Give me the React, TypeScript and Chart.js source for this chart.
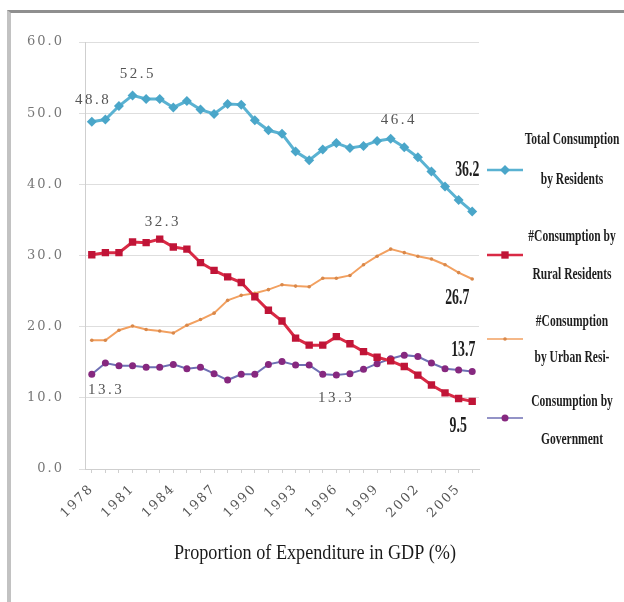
import React, { useEffect, useRef } from 'react';
import { Chart, registerables } from 'chart.js';

Chart.register(...registerables);

const years = [
  '1978', '1979', '1980', '1981', '1982', '1983', '1984', '1985', '1986', '1987',
  '1988', '1989', '1990', '1991', '1992', '1993', '1994', '1995', '1996', '1997',
  '1998', '1999', '2000', '2001', '2002', '2003', '2004', '2005', '2006',
];

const totalResidents = [
  48.8, 49.1, 51.0, 52.5, 52.0, 52.0, 50.8, 51.7, 50.5, 49.9,
  51.3, 51.2, 49.0, 47.6, 47.1, 44.6, 43.4, 44.9, 45.8, 45.1,
  45.4, 46.1, 46.4, 45.2, 43.8, 41.8, 39.7, 37.8, 36.2,
];

const ruralResidents = [
  30.1, 30.4, 30.4, 31.9, 31.8, 32.3, 31.2, 30.9, 29.0, 27.9,
  27.0, 26.2, 24.2, 22.3, 20.8, 18.4, 17.4, 17.4, 18.6, 17.6,
  16.5, 15.7, 15.2, 14.4, 13.2, 11.8, 10.7, 9.9, 9.5,
];

const urbanResidents = [
  18.1, 18.1, 19.5, 20.1, 19.6, 19.4, 19.1, 20.2, 21.0, 21.9,
  23.7, 24.4, 24.7, 25.2, 25.9, 25.7, 25.6, 26.8, 26.8, 27.2,
  28.7, 29.9, 30.9, 30.4, 29.9, 29.5, 28.7, 27.6, 26.7,
];

const government = [
  13.3, 14.9, 14.5, 14.5, 14.3, 14.3, 14.7, 14.1, 14.3, 13.4,
  12.5, 13.3, 13.3, 14.7, 15.1, 14.6, 14.6, 13.3, 13.2, 13.4,
  14.0, 14.8, 15.5, 16.0, 15.8, 14.9, 14.1, 13.9, 13.7,
];

const yMin = 0;
const yMax = 60;
const yStep = 10;
const xLabelEvery = 3;

const seriesNames = [
  ['Total Consumption', 'by Residents'],
  ['#Consumption by', 'Rural Residents'],
  ['#Consumption', 'by Urban Resi-'],
  ['Consumption by', 'Government'],
];

const xTitle = 'Proportion of Expenditure in GDP (%)';

// annotated points: [datasetIndex, pointIndex]
const annotatedPoints: Array<[number, number]> = [
  [0, 0], [0, 3], [0, 22], [0, 28],
  [1, 5], [1, 28],
  [2, 28],
  [3, 0], [3, 17], [3, 28],
];

const SERIF = '"Liberation Serif", "Times New Roman", serif';
const WIDE_SERIF = '"DejaVu Serif", "Liberation Serif", serif';

function drawMarker(ctx: CanvasRenderingContext2D, style: string, x: number, y: number, r: number, color: string) {
  ctx.save();
  ctx.fillStyle = color;
  ctx.beginPath();
  if (style === 'rectRot') {
    ctx.moveTo(x, y - r);
    ctx.lineTo(x + r, y);
    ctx.lineTo(x, y + r);
    ctx.lineTo(x - r, y);
    ctx.closePath();
  } else if (style === 'rect') {
    const s = r * Math.SQRT1_2;
    ctx.rect(x - s, y - s, 2 * s, 2 * s);
  } else {
    ctx.arc(x, y, r, 0, Math.PI * 2);
  }
  ctx.fill();
  ctx.restore();
}

const overlayPlugin = {
  id: 'overlay',
  beforeDraw(chart: any) {
    chart.ctx.letterSpacing = '2px';
  },
  afterDraw(chart: any) {
    const ctx: CanvasRenderingContext2D = chart.ctx;
    const ds = chart.data.datasets;

    // data labels
    const offsets: Record<string, [number, number, boolean]> = {
      '0-0': [0, -22, false],
      '0-3': [4, -21, false],
      '0-22': [7, -19, false],
      '0-28': [-5, -41, true],
      '1-5': [2, -17, false],
      '1-28': [-14, 25, true],
      '2-28': [-15, 19, true],
      '3-0': [13, 16, false],
      '3-17': [12, 24, false],
      '3-28': [-9, -21, true],
    };
    annotatedPoints.forEach(([di, pi]) => {
      const el = chart.getDatasetMeta(di).data[pi];
      const [dx, dy, bold] = offsets[`${di}-${pi}`];
      const txt = Number(ds[di].data[pi]).toFixed(1);
      ctx.save();
      ctx.textAlign = 'center';
      ctx.textBaseline = 'middle';
      if (bold) {
        ctx.letterSpacing = '0px';
        ctx.font = `bold 23px ${SERIF}`;
        ctx.fillStyle = '#1e1e1e';
        ctx.translate(el.x + dx, el.y + dy);
        ctx.scale(0.6, 1);
        ctx.fillText(txt, 0, 0);
      } else {
        ctx.letterSpacing = '2.5px';
        ctx.font = `15px ${SERIF}`;
        ctx.fillStyle = '#555';
        ctx.fillText(txt, el.x + dx + 1.25, el.y + dy);
      }
      ctx.restore();
    });

    // legend
    const sampleY = [170, 255, 339, 418];
    const line1Y = [140, 237, 322, 402];
    const line2Y = [180, 275, 358, 440];
    ds.forEach((d: any, i: number) => {
      ctx.save();
      ctx.strokeStyle = d.borderColor;
      ctx.lineWidth = Math.max(1.5, d.borderWidth - 0.5);
      ctx.beginPath();
      ctx.moveTo(487, sampleY[i]);
      ctx.lineTo(523, sampleY[i]);
      ctx.stroke();
      drawMarker(ctx, d.pointStyle, 505, sampleY[i], d.pointRadius, d.pointBackgroundColor);
      ctx.letterSpacing = '0px';
      ctx.font = `bold 16px ${SERIF}`;
      ctx.fillStyle = '#1e1e1e';
      ctx.textAlign = 'center';
      ctx.textBaseline = 'middle';
      const lines = seriesNames[i];
      [line1Y[i], line2Y[i]].forEach((yy, k) => {
        ctx.save();
        ctx.translate(572, yy);
        ctx.scale(0.72, 1);
        ctx.fillText(lines[k], 0, 0);
        ctx.restore();
      });
      ctx.restore();
    });

    // x axis title
    ctx.save();
    ctx.letterSpacing = '0px';
    ctx.font = `20px ${SERIF}`;
    ctx.fillStyle = '#1a1a1a';
    ctx.textAlign = 'center';
    ctx.textBaseline = 'middle';
    const w = ctx.measureText(xTitle).width;
    const sx = Math.min(1, 282 / w);
    ctx.translate(315, 554);
    ctx.scale(sx, 1);
    ctx.fillText(xTitle, 0, 0);
    ctx.restore();

    ctx.letterSpacing = '0px';
  },
};

export default function App() {
  const canvasRef = useRef<HTMLCanvasElement | null>(null);

  useEffect(() => {
    const canvas = canvasRef.current;
    if (!canvas) return;
    const chart = new Chart(canvas, {
      type: 'line',
      data: {
        labels: years,
        datasets: [
          {
            label: seriesNames[0].join(' '),
            data: totalResidents,
            borderColor: '#5ab2d2',
            backgroundColor: '#4aa6c9',
            borderWidth: 3,
            pointStyle: 'rectRot',
            pointRadius: 5,
            pointBackgroundColor: '#4aa6c9',
            pointBorderWidth: 0,
            tension: 0,
          },
          {
            label: seriesNames[1].join(' '),
            data: ruralResidents,
            borderColor: '#d92a45',
            backgroundColor: '#c01437',
            borderWidth: 3,
            pointStyle: 'rect',
            pointRadius: 5.2,
            pointBackgroundColor: '#c01437',
            pointBorderWidth: 0,
            tension: 0,
          },
          {
            label: seriesNames[2].join(' '),
            data: urbanResidents,
            borderColor: '#f2a060',
            backgroundColor: '#d9884a',
            borderWidth: 2,
            pointStyle: 'circle',
            pointRadius: 1.8,
            pointBackgroundColor: '#d9884a',
            pointBorderWidth: 0,
            tension: 0,
          },
          {
            label: seriesNames[3].join(' '),
            data: government,
            borderColor: '#6f6fb4',
            backgroundColor: '#86287f',
            borderWidth: 2,
            pointStyle: 'circle',
            pointRadius: 3.5,
            pointBackgroundColor: '#86287f',
            pointBorderWidth: 0,
            tension: 0,
          },
        ],
      },
      options: {
        responsive: false,
        animation: false,
        devicePixelRatio: 1,
        layout: { padding: { top: 42, right: 145, bottom: 0, left: 0 } },
        plugins: {
          legend: { display: false },
          tooltip: { enabled: false },
          title: { display: false },
        },
        scales: {
          x: {
            type: 'category',
            offset: true,
            grid: {
              display: true,
              drawOnChartArea: false,
              drawTicks: true,
              tickLength: 4,
              color: '#cfcfcf',
            },
            border: { display: true, color: '#cfcfcf' },
            ticks: {
              autoSkip: false,
              minRotation: 45,
              maxRotation: 45,
              padding: 8,
              color: '#555',
              font: { family: WIDE_SERIF, size: 13 },
              callback: (_v: any, i: number) => (i % xLabelEvery === 0 ? years[i] : ''),
            },
            afterFit: (scale: any) => {
              scale.height = 133;
            },
          },
          y: {
            min: yMin,
            max: yMax,
            grid: {
              color: '#dedede',
              drawTicks: true,
              tickLength: 6,
            },
            border: { display: true, color: '#cfcfcf' },
            ticks: {
              stepSize: yStep,
              padding: 15,
              color: '#777',
              font: { family: WIDE_SERIF, size: 13 },
              callback: (v: any) => Number(v).toFixed(1),
            },
            afterFit: (scale: any) => {
              scale.width = 85;
            },
          },
        },
      },
      plugins: [overlayPlugin],
    });
    return () => chart.destroy();
  }, []);

  return (
    <div style={{ position: 'absolute', left: 0, top: 0, width: 624, height: 602, background: '#fff', overflow: 'hidden' }}>
      <div
        style={{
          position: 'absolute',
          left: 7,
          top: 10,
          width: 640,
          height: 620,
          borderTop: '3px solid #8f8f8f',
          borderLeft: '4px solid #c2c2c2',
          boxSizing: 'border-box',
        }}
      />
      <canvas ref={canvasRef} width={624} height={602} style={{ position: 'absolute', left: 0, top: 0, width: 624, height: 602 }} />
    </div>
  );
}
